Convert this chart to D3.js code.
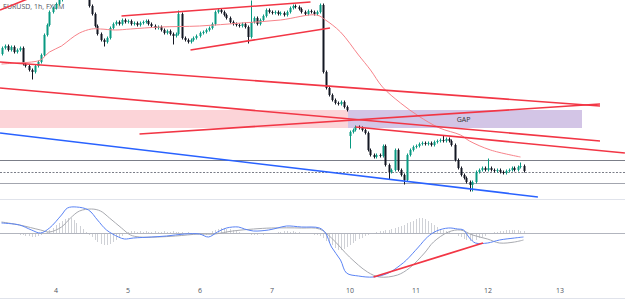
<!DOCTYPE html>
<html>
<head>
<meta charset="utf-8">
<script src="https://cdn.jsdelivr.net/npm/d3@7"></script>
<style>
  body { margin: 0; background: #fff; }
  svg { display: block; font-family: "Open Sans", "DejaVu Sans", sans-serif; }
</style>
</head>
<body>
<div id="chart"></div>
<script>
// EURUSD 1h closes, one per bar
var closes = [
  1.0912,1.0914,1.0910,1.0913,1.0908,1.0910,1.0912,1.0896,1.0894,1.0890,
  1.0888,1.0894,1.0898,1.0905,1.0925,1.0935,1.0948,1.0952,1.0956,1.0960,
  1.0965,1.0970,1.0975,1.0972,1.0978,1.0974,1.0970,1.0966,1.0963,1.0954,
  1.0946,1.0934,1.0926,1.0920,1.0918,1.0922,1.0932,1.0936,1.0938,1.0936,
  1.0940,1.0938,1.0939,1.0936,1.0937,1.0935,1.0937,1.0938,1.0939,1.0936,
  1.0934,1.0932,1.0933,1.0930,1.0927,1.0929,1.0926,1.0924,1.0926,1.0946,
  1.0922,1.0920,1.0918,1.0920,1.0922,1.0924,1.0927,1.0928,1.0930,1.0932,
  1.0936,1.0948,1.0950,1.0948,1.0945,1.0942,1.0938,1.0936,1.0935,1.0934,
  1.0936,1.0933,1.0923,1.0938,1.0942,1.0936,1.0940,1.0944,1.0950,1.0948,
  1.0947,1.0948,1.0946,1.0947,1.0945,1.0948,1.0952,1.0954,1.0953,1.0951,
  1.0948,1.0946,1.0949,1.0948,1.0946,1.0948,1.0955,1.0888,1.0872,1.0865,
  1.0860,1.0857,1.0856,1.0858,1.0853,1.0850,1.0828,1.0830,1.0833,1.0832,
  1.0830,1.0827,1.0810,1.0805,1.0803,1.0805,1.0804,1.0814,1.0795,1.0788,
  1.0790,1.0810,1.0790,1.0785,1.0780,1.0805,1.0810,1.0813,1.0814,1.0816,
  1.0817,1.0816,1.0817,1.0815,1.0818,1.0819,1.0820,1.0819,1.0821,1.0819,
  1.0815,1.0800,1.0792,1.0785,1.0782,1.0778,1.0775,1.0778,1.0788,1.0790,
  1.0792,1.0790,1.0792,1.0790,1.0789,1.0790,1.0788,1.0787,1.0789,1.0790,
  1.0792,1.0790,1.0793,1.0794,1.0789
];
// opens that differ from the previous close (first bar, Monday gap)
var openFix = {0: 1.0906, 116: 1.0824};
var wickHigh = {59: 1.0948, 83: 1.0958, 147: 1.0823, 162: 1.0800, 173: 1.0796};
var wickLow = {10: 1.0882, 34: 1.0915, 57: 1.0917, 82: 1.0918, 116: 1.0813,
               129: 1.0782, 134: 1.0777, 156: 1.0770, 157: 1.0770};

// moving average (thin pink), read at sample bars
var maIndex = [0,5,10,13,16,20,23,26,30,33,38,43,53,66,80,93,105,108,113,119,123,127,133,139,146,153,156,163,173];
var maValue = [1.0896,1.0897,1.0898,1.0900,1.0908,1.0914,1.0921,1.0927,1.0931,1.0931,1.0930,1.0931,1.0933,1.0934,
               1.0937,1.0940,1.0945,1.0940,1.0928,1.0905,1.0890,1.0873,1.0857,1.0844,1.0832,1.0825,1.0819,1.0810,1.0803];

// MACD pane (units of 1e-5)
var macdIndex = [0,6,10,13,16,20,22,25,29,32,35,39,41,44,50,55,61,66,69,72,75,79,81,84,89,92,95,100,106,108,110,113,115,119,124,129,133,135,139,142,145,149,152,154,156,158,162,166,171,174];
var macdValue = [10,8,3,0,5,18,25,26,23,13,3,-4,-6,-5,-4,-3,-1,-1,-4,1,5,6,4,2,3,5,7,6,5,0,-14,-27,-40,-43,-44,-40,-32,-27,-14,-4,2,5,4,3,-5,-10,-10,-7,-5,-4];
var signalIndex = [0,6,13,16,20,23,26,30,33,36,40,43,46,52,58,66,71,77,84,90,100,106,110,116,122,126,132,136,141,144,149,153,157,162,166,171,174];
var signalValue = [11,8,3,1,6,15,22,24,22,15,5,-2,-4,-4,-3,-1,-1,2,4,5,5,4,-5,-24,-39,-44,-42,-35,-20,-9,1,3,-2,-6,-10,-9,-7];
var histValue = [
  -1,-1,-1,-1,-1,-1,-2,-2,-3,-3,
  -4,-4,-3,-2,-1,1,3,5,8,10,
  12,14,15,15,13,10,7,4,1,-2,
  -4,-7,-9,-11,-12,-12,-11,-9,-7,-5,
  -3,-1,1,2,2,1,2,1,2,1,
  1,2,1,1,2,1,1,2,1,1,
  1,0,1,0,-1,-1,-2,-2,-2,-1,
  2,3,4,5,5,4,4,3,2,1,
  0,-1,-1,-2,-2,-2,-1,-2,-1,-1,
  -1,0,1,1,2,2,1,2,1,1,
  0,-1,-1,-1,-2,-2,-3,-5,-8,-10,
  -12,-15,-17,-17,-16,-14,-12,-10,-8,-6,
  -5,-3,-2,-1,0,1,2,2,3,3,
  4,5,6,7,8,10,11,12,14,15,
  15,14,12,10,8,6,4,3,2,1,
  0,-1,-3,-4,-6,-7,-8,-8,-7,-5,
  -4,-3,-1,0,1,1,2,2,3,3,
  3,3,3,2,2
];

var dayLabels = ["4","5","6","7","10","11","12","13"];
var dayIndex = [18,42,66,90,116,138,162,186];

// drawings: [index1, price1, index2, price2]
var redLines = [
  [-0.5, 1.0950, 19.5, 1.0974],
  [40, 1.0944, 103, 1.0958],
  [63, 1.0910, 109.5, 1.0932],
  [-0.5, 1.0898, 199.5, 1.0854],
  [-0.5, 1.0872, 199.5, 1.0819],
  [46, 1.0826, 199.5, 1.0856],
  [118, 1.0833, 207.8, 1.0807]
];
var blueLine = [-0.5, 1.0827, 178.8, 1.0763];
var levels = [1.0800, 1.0788, 1.0777];
var gapTop = 1.0850, gapBottom = 1.0832;
var macdRedLine = [124, -44, 160.5, -10];

var W = 625, H = 300;
var svg = d3.select("#chart").append("svg").attr("width", W).attr("height", H);

var x = d3.scaleLinear().domain([0, 174]).range([1.5, 523.5]);
var y = d3.scaleLinear().domain([1.0770, 1.0960]).range([190, 0]);
var ym = d3.scaleLinear().domain([-55, 30]).range([288, 203]);

svg.append("clipPath").attr("id", "mainClip")
   .append("rect").attr("x", 0).attr("y", 0).attr("width", W).attr("height", 198);

var main = svg.append("g").attr("clip-path", "url(#mainClip)");

// gap zones
main.append("rect")
    .attr("x", 0).attr("y", y(gapTop))
    .attr("width", x(115) + 1.5).attr("height", y(gapBottom) - y(gapTop))
    .attr("fill", "#fcd4d8");
main.append("rect")
    .attr("x", x(115) + 1.5).attr("y", y(gapTop))
    .attr("width", x(193.5) - x(115) - 1.5).attr("height", y(gapBottom) - y(gapTop))
    .attr("fill", "#d3c5e6");
main.append("text")
    .attr("x", x(154)).attr("y", (y(gapTop) + y(gapBottom)) / 2 + 2.5)
    .attr("text-anchor", "middle").attr("font-size", 7).attr("fill", "#333")
    .text("GAP");

// horizontal levels
main.selectAll(".lvl").data(levels).enter().append("line")
    .attr("x1", 0).attr("x2", W)
    .attr("y1", d => Math.round(y(d)) + 0.5).attr("y2", d => Math.round(y(d)) + 0.5)
    .attr("stroke", (d, i) => i == 2 ? "#a3a6af" : "#7b7e88")
    .attr("stroke-width", 1)
    .attr("stroke-dasharray", (d, i) => i == 1 ? "2,1.5" : null);

main.append("text")
    .attr("x", 3).attr("y", 9)
    .attr("font-size", 7).attr("fill", "#50535e")
    .text("EURUSD, 1h, FXCM");

// candles
var candles = closes.map(function (c, i) {
  var o = openFix[i] != null ? openFix[i] : closes[i - 1];
  var hi = Math.max(o, c, wickHigh[i] || 0);
  var lo = Math.min(o, c, wickLow[i] || 9);
  return {i: i, o: o, c: c, h: hi, l: lo};
});

var cg = main.selectAll(".candle").data(candles).enter().append("g");
cg.append("line")
  .attr("x1", d => Math.round(x(d.i)) + 0.5).attr("x2", d => Math.round(x(d.i)) + 0.5)
  .attr("y1", d => y(d.h) - 1.5).attr("y2", d => y(d.l) + 1.5)
  .attr("stroke", d => d.c >= d.o ? "#089981" : "#131722");
cg.append("rect")
  .attr("x", d => Math.round(x(d.i)) - 0.5).attr("width", 2)
  .attr("y", d => y(Math.max(d.o, d.c)))
  .attr("height", d => Math.max(1, Math.abs(y(d.o) - y(d.c))))
  .attr("fill", d => d.c >= d.o ? "#089981" : "#131722");

// moving average
var maLine = d3.line().x(d => x(d[0])).y(d => y(d[1])).curve(d3.curveCatmullRom.alpha(0.5));
main.append("path")
    .attr("d", maLine(maIndex.map((d, i) => [d, maValue[i]])))
    .attr("fill", "none").attr("stroke", "#f7838a").attr("stroke-width", 1);

// trend lines
main.selectAll(".tl").data(redLines).enter().append("line")
    .attr("x1", d => x(d[0])).attr("y1", d => y(d[1]))
    .attr("x2", d => x(d[2])).attr("y2", d => y(d[3]))
    .attr("stroke", "#f23645").attr("stroke-width", 1.6);
main.append("line")
    .attr("x1", x(blueLine[0])).attr("y1", y(blueLine[1]))
    .attr("x2", x(blueLine[2])).attr("y2", y(blueLine[3]))
    .attr("stroke", "#2962ff").attr("stroke-width", 1.6);

// pane borders
svg.append("line").attr("x1", 0).attr("x2", W).attr("y1", 199.5).attr("y2", 199.5)
   .attr("stroke", "#e0e3eb");
svg.append("line").attr("x1", 0).attr("x2", W).attr("y1", 298.5).attr("y2", 298.5)
   .attr("stroke", "#e0e3eb");

// MACD pane
var macdG = svg.append("g");
macdG.selectAll(".hist").data(histValue).enter().append("line")
    .attr("x1", (d, i) => Math.round(x(i)) + 0.5).attr("x2", (d, i) => Math.round(x(i)) + 0.5)
    .attr("y1", ym(0)).attr("y2", d => ym(d))
    .attr("stroke", "#cfd1d6").attr("stroke-width", 1);
macdG.append("line").attr("x1", 0).attr("x2", W)
    .attr("y1", Math.round(ym(0)) + 0.5).attr("y2", Math.round(ym(0)) + 0.5)
    .attr("stroke", "#b2b5be");

var mLine = d3.line().x(d => x(d[0])).y(d => ym(d[1])).curve(d3.curveCatmullRom.alpha(0.5));
macdG.append("path")
    .attr("d", mLine(signalIndex.map((d, i) => [d, signalValue[i]])))
    .attr("fill", "none").attr("stroke", "#a8aab0").attr("stroke-width", 1);
macdG.append("path")
    .attr("d", mLine(macdIndex.map((d, i) => [d, macdValue[i]])))
    .attr("fill", "none").attr("stroke", "#5b84f5").attr("stroke-width", 1);
macdG.append("line")
    .attr("x1", x(macdRedLine[0])).attr("y1", ym(macdRedLine[1]))
    .attr("x2", x(macdRedLine[2])).attr("y2", ym(macdRedLine[3]))
    .attr("stroke", "#f23645").attr("stroke-width", 1.8);

// time axis
var axis = d3.axisBottom(x)
    .tickValues(dayIndex)
    .tickFormat((d, i) => dayLabels[i])
    .tickSize(0).tickPadding(0);
var ax = svg.append("g").attr("transform", "translate(0,288)").call(axis);
ax.select(".domain").remove();
ax.selectAll("text").attr("font-size", 7).attr("fill", "#50535e")
  .attr("font-family", "'Open Sans', 'DejaVu Sans', sans-serif");
</script>
</body>
</html>
